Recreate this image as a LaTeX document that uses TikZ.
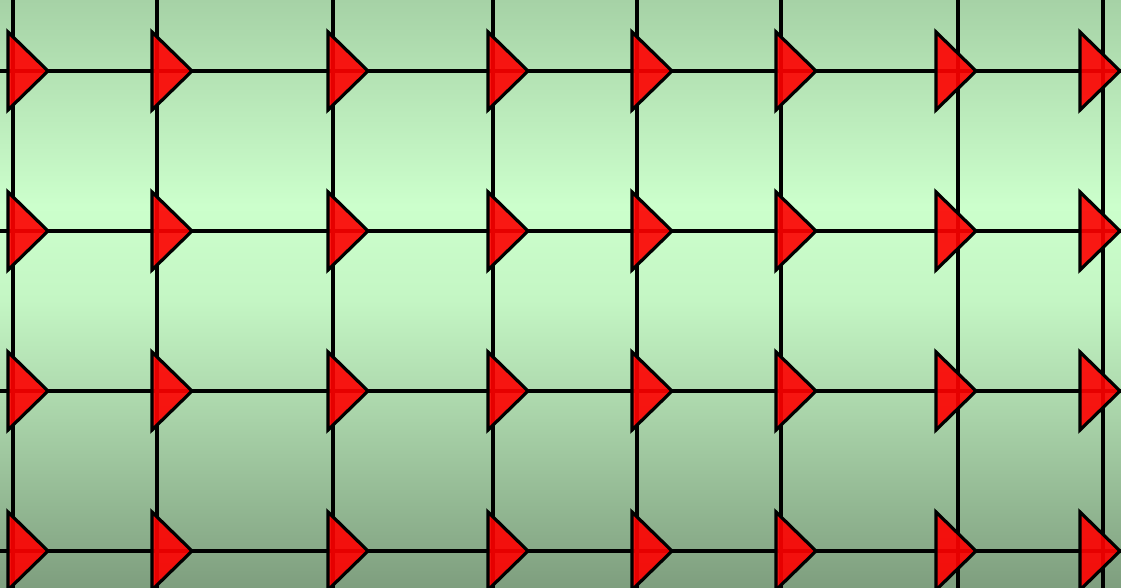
\documentclass[tikz,border=0pt]{standalone}
\begin{document}
\begin{tikzpicture}[x=1pt,y=-1pt,
  gridline/.style={line width=4.8pt,black},
  tri/.style={draw=black,line width=3.2pt,line join=miter,fill={rgb,255:red,255;green,0;blue,0},fill opacity=0.9}]
\definecolor{bgA}{RGB}{166,210,166}
\definecolor{bgB}{RGB}{204,255,204}
\definecolor{bgC}{RGB}{196,246,196}
\definecolor{bgD}{RGB}{168,210,168}
\definecolor{bgE}{RGB}{126,158,126}
\useasboundingbox (0,0) rectangle (1121,588);
\shade[top color=bgA,bottom color=bgB] (0,0) rectangle (1121,205.5);
\shade[top color=bgB,bottom color=bgC] (0,205) rectangle (1121,300.5);
\shade[top color=bgC,bottom color=bgD] (0,300) rectangle (1121,420.5);
\shade[top color=bgD,bottom color=bgE] (0,420) rectangle (1121,588);
% vertical lines
\foreach \x in {13,157,333,493,637,781,958,1103}
  \draw[gridline] (\x,0) -- (\x,588);
% horizontal lines
\foreach \y in {71,231,391,551}
  \draw[gridline] (0,\y) -- (1121,\y);
% triangles
\foreach \y in {71,231,391,551}
  \foreach \l in {8,152,328,488,632,776,936,1080}
    \draw[tri] (\l,\y-39) -- (\l+40,\y) -- (\l,\y+39) -- cycle;
\end{tikzpicture}
\end{document}
